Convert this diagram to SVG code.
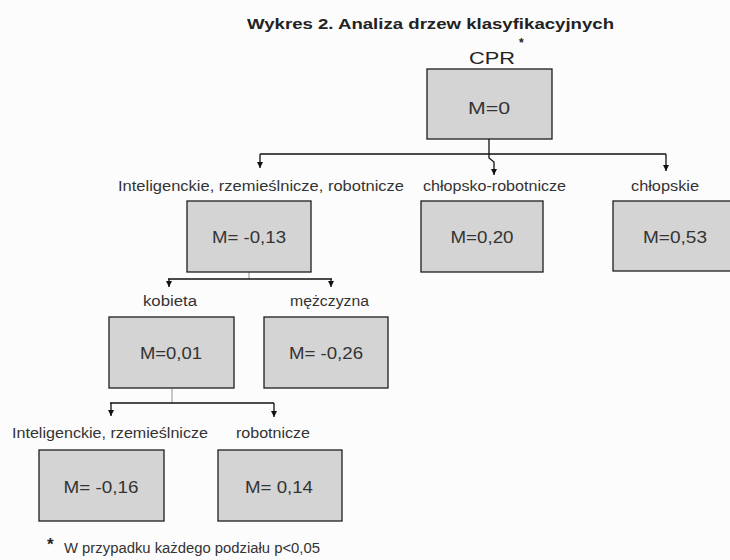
<svg xmlns="http://www.w3.org/2000/svg" width="730" height="560" viewBox="0 0 730 560">
<style>
.box{fill:#d4d4d4;stroke:#1e1e1e;stroke-width:1.3}
.val{font-family:"Liberation Sans",Arial,sans-serif;font-size:17px;fill:#333;text-anchor:middle}
.lab{font-family:"Liberation Sans",Arial,sans-serif;font-size:14px;fill:#333}
.ln{fill:none;stroke:#111;stroke-width:1.3}
.stem{fill:none;stroke:#aaa;stroke-width:1.3}
</style>
<defs>
<marker id="ah" viewBox="0 0 6 6" refX="6" refY="3" markerWidth="6" markerHeight="6" markerUnits="userSpaceOnUse" orient="auto">
<path d="M0,0 L6,3 L0,6 z" fill="#111"/>
</marker>
</defs>
<rect width="730" height="560" fill="#fcfcfc"/>
<text x="247" y="29" font-family="Liberation Sans,Arial,sans-serif" font-size="15.5" font-weight="bold" fill="#222" textLength="367" lengthAdjust="spacingAndGlyphs">Wykres 2. Analiza drzew klasyfikacyjnych</text>

<g id="connectors">
<path class="ln" d="M489,139 V158 L494,162 V175" marker-end="url(#ah)"/>
<path class="ln" d="M260,154 H666"/>
<path class="ln" d="M260,154 V168" marker-end="url(#ah)"/>
<path class="ln" d="M666,154 V171" marker-end="url(#ah)"/>
<path class="stem" d="M249,272 V279"/>
<path class="ln" d="M168,279 H332"/>
<path class="ln" d="M169,279 V287" marker-end="url(#ah)"/>
<path class="ln" d="M331,279 V287" marker-end="url(#ah)"/>
<path class="stem" d="M172,389 V403"/>
<path class="ln" d="M110,403 H274"/>
<path class="ln" d="M111,403 V416" marker-end="url(#ah)"/>
<path class="ln" d="M274,403 V417" marker-end="url(#ah)"/>
</g>

<g id="root">
<text x="469" y="64" font-family="Liberation Sans,Arial,sans-serif" font-size="17" fill="#222" textLength="46" lengthAdjust="spacingAndGlyphs">CPR</text>
<text x="519" y="47" font-family="Liberation Sans,Arial,sans-serif" font-size="12" font-weight="bold" fill="#222">*</text>
<rect class="box" x="427" y="69" width="125" height="70"/>
<text class="val" x="489" y="114" textLength="42" lengthAdjust="spacingAndGlyphs">M=0</text>
</g>

<g id="n-irr">
<text class="lab" x="118" y="191" textLength="286" lengthAdjust="spacingAndGlyphs">Inteligenckie, rzemieślnicze, robotnicze</text>
<rect class="box" x="187" y="201" width="124" height="71"/>
<text class="val" x="249" y="243" textLength="74" lengthAdjust="spacingAndGlyphs">M= -0,13</text>
</g>

<g id="n-chr">
<text class="lab" x="423" y="191" textLength="143" lengthAdjust="spacingAndGlyphs">chłopsko-robotnicze</text>
<rect class="box" x="421" y="201" width="122" height="71"/>
<text class="val" x="482" y="243" textLength="63" lengthAdjust="spacingAndGlyphs">M=0,20</text>
</g>

<g id="n-ch">
<text class="lab" x="631" y="191" textLength="68" lengthAdjust="spacingAndGlyphs">chłopskie</text>
<rect class="box" x="613" y="201" width="124" height="70"/>
<text class="val" x="675" y="243" textLength="64" lengthAdjust="spacingAndGlyphs">M=0,53</text>
</g>

<g id="n-kob">
<text class="lab" x="143" y="306" textLength="54" lengthAdjust="spacingAndGlyphs">kobieta</text>
<rect class="box" x="109" y="317" width="125" height="71"/>
<text class="val" x="171" y="359" textLength="62" lengthAdjust="spacingAndGlyphs">M=0,01</text>
</g>

<g id="n-mez">
<text class="lab" x="290" y="306" textLength="79" lengthAdjust="spacingAndGlyphs">mężczyzna</text>
<rect class="box" x="264" y="317" width="124" height="71"/>
<text class="val" x="326" y="359" textLength="74" lengthAdjust="spacingAndGlyphs">M= -0,26</text>
</g>

<g id="n-ir">
<text class="lab" x="12" y="438" textLength="196" lengthAdjust="spacingAndGlyphs">Inteligenckie, rzemieślnicze</text>
<rect class="box" x="39" y="450" width="125" height="71"/>
<text class="val" x="101" y="493" textLength="75" lengthAdjust="spacingAndGlyphs">M= -0,16</text>
</g>

<g id="n-rob">
<text class="lab" x="236" y="438" textLength="74" lengthAdjust="spacingAndGlyphs">robotnicze</text>
<rect class="box" x="218" y="450" width="124" height="71"/>
<text class="val" x="279" y="493" textLength="68" lengthAdjust="spacingAndGlyphs">M= 0,14</text>
</g>

<g id="footnote">
<text x="47" y="550" font-family="Liberation Sans,Arial,sans-serif" font-size="17" font-weight="bold" fill="#222">*</text>
<text class="lab" x="64" y="553" font-size="13" textLength="256" lengthAdjust="spacingAndGlyphs">W przypadku każdego podziału p&lt;0,05</text>
</g>
</svg>
